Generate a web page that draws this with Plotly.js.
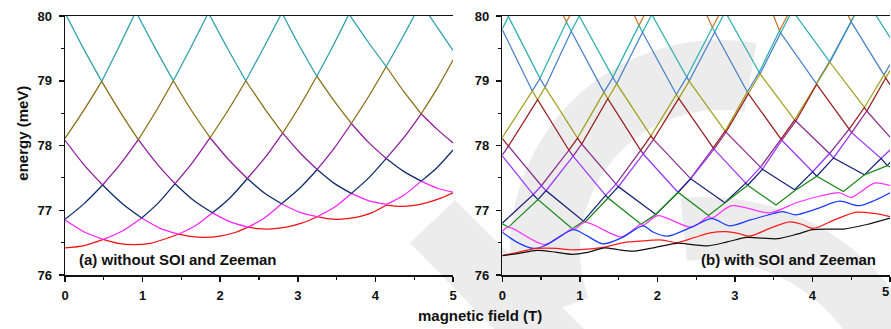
<!DOCTYPE html>
<html><head><meta charset="utf-8">
<script src="https://cdn.plot.ly/plotly-3.0.1.min.js"></script>
<style>html,body{margin:0;padding:0;background:#fff}#chart{width:891px;height:329px}</style>
</head><body><div id="chart"></div>
<script>
// ---------- Panel (a): without SOI and Zeeman (arcs separated by null) ----------
const aRedB = [0,0.25,0.494,null, 0.494,0.68,0.88,1.1,1.3,1.46,null, 1.46,1.62,1.78,2.0,2.2,2.36,null, 2.36,2.5,2.62,2.85,3.05,3.25,null, 3.25,3.38,3.52,3.75,3.95,4.145,null, 4.145,4.32,4.5,4.7,4.85,5.0];
const aRedE = [76.42,76.455,76.55,null, 76.55,76.49,76.47,76.49,76.56,76.63,null, 76.63,76.595,76.58,76.60,76.66,76.74,null, 76.74,76.715,76.71,76.74,76.80,76.90,null, 76.90,76.87,76.86,76.89,76.96,77.08,null, 77.08,77.06,77.075,77.13,77.19,77.27];
const aMagB = [0,0.25,0.494,null,0.494,0.74,0.988,null,0.988,1.22,1.46,null,1.46,1.68,1.90,null,1.90,2.13,2.36,null,2.36,2.575,2.79,null,2.79,3.02,3.25,null,3.25,3.47,3.69,null,3.69,3.92,4.145,null,4.145,4.37,4.59,null,4.59,4.8,5.0];
const aMagE = [76.85,76.665,76.55,null,76.55,76.68,76.88,null,76.88,76.725,76.63,null,76.63,76.76,76.96,null,76.96,76.82,76.74,null,76.74,76.885,77.10,null,77.10,76.97,76.90,null,76.90,77.045,77.26,null,77.26,77.145,77.09,null,77.09,77.235,77.45,null,77.45,77.34,77.28];
const aNavyB = [0,0.24,0.485,null,0.485,0.74,0.988,null,0.988,1.2,1.418,null,1.418,1.66,1.90,null,1.90,2.125,2.35,null,2.35,2.57,2.79,null,2.79,3.02,3.25,null,3.25,3.47,3.69,null,3.69,3.915,4.14,null,4.14,4.365,4.59,null,4.59,4.8,5.0];
const aNavyE = [76.86,77.095,77.39,null,77.39,77.10,76.88,null,76.88,77.11,77.41,null,77.41,77.15,76.96,null,76.96,77.19,77.49,null,77.49,77.265,77.10,null,77.10,77.335,77.63,null,77.63,77.415,77.26,null,77.26,77.50,77.80,null,77.80,77.60,77.45,null,77.45,77.665,77.93];
const aPurB = [0,0.24,0.485,null,0.485,0.715,0.945,null,0.945,1.18,1.418,null,1.418,1.645,1.87,null,1.87,2.11,2.35,null,2.35,2.58,2.805,null,2.805,3.03,3.25,null,3.25,3.47,3.69,null,3.69,3.915,4.14,null,4.14,4.365,4.59,null,4.59,4.8,5.0];
const aPurE = [78.08,77.71,77.39,null,77.39,77.715,78.09,null,78.09,77.725,77.41,null,77.41,77.74,78.12,null,78.12,77.78,77.49,null,77.49,77.815,78.19,null,78.19,77.885,77.63,null,77.63,77.96,78.34,null,78.34,78.045,77.80,null,77.80,78.12,78.49,null,78.49,78.245,78.04];
const aOliB = [0,0.235,0.473,null,0.473,0.71,0.945,null,0.945,1.17,1.396,null,1.396,1.63,1.87,null,1.87,2.1,2.33,null,2.33,2.57,2.805,null,2.805,3.025,3.245,null,3.245,3.47,3.69,null,3.69,3.915,4.14,null,4.14,4.365,4.59,null,4.59,4.8,5.0];
const aOliE = [78.11,78.53,78.99,null,78.99,78.52,78.09,null,78.09,78.525,79.0,null,79.0,78.54,78.12,null,78.12,78.54,79.0,null,79.0,78.575,78.19,null,78.19,78.61,79.07,null,79.07,78.685,78.34,null,78.34,78.76,79.22,null,79.22,78.835,78.49,null,78.49,78.89,79.32];
const aTealB = [0,0.237,0.473,null,0.473,0.69,0.913,null,0.913,1.155,1.396,null,1.396,1.62,1.848,null,1.848,2.09,2.33,null,2.33,2.56,2.795,null,2.795,3.02,3.245,null,3.245,3.45,3.66,null,3.66,3.9,4.14,null,4.14,4.36,4.585,null,4.585,4.8,5.0];
const aTealE = [80.05,79.50,78.99,null,78.99,79.51,80.07,null,80.07,79.52,79.0,null,79.0,79.51,80.05,null,80.05,79.51,79.0,null,79.0,79.51,80.05,null,80.05,79.54,79.07,null,79.07,79.53,80.03,null,80.03,79.61,79.22,null,79.22,79.69,80.2,null,80.2,79.82,79.47];

// ---------- Panel (b): with SOI and Zeeman (levels 1..13, bottom to top) ----------
const bBlackB = [0,0.2,0.45,0.7,0.9,1.1,1.32,1.5,1.7,1.95,2.25,2.45,2.65,2.9,3.15,3.35,3.55,3.8,4.0,4.2,4.4,4.7,5.0];
const bBlackE = [76.30,76.33,76.38,76.35,76.32,76.35,76.42,76.39,76.37,76.42,76.49,76.47,76.45,76.51,76.58,76.57,76.56,76.63,76.70,76.71,76.71,76.78,76.88];
const bRedB = [0,0.2,0.45,0.7,0.89,1.1,1.32,1.45,1.62,1.85,2.06,2.25,2.48,2.68,2.89,3.05,3.19,3.45,3.71,3.87,4.01,4.3,4.57,4.8,5.0];
const bRedE = [76.30,76.35,76.41,76.41,76.39,76.40,76.43,76.47,76.51,76.53,76.54,76.50,76.58,76.65,76.67,76.64,76.60,76.72,76.82,76.78,76.72,76.86,76.97,76.95,76.90];
const bBlueB = [0,0.2,0.40,0.56,0.75,0.92,1.1,1.30,1.55,1.815,1.95,2.13,2.44,2.705,2.93,3.2,3.5,3.62,3.78,4.05,4.35,4.6,4.8,5.0];
const bBlueE = [76.66,76.50,76.41,76.46,76.60,76.70,76.60,76.48,76.58,76.76,76.66,76.60,76.74,76.87,76.76,76.85,76.95,76.98,76.93,77.02,77.14,77.07,77.15,77.27];
const bMagB = [0,0.08,0.55,0.903,0.924,1.068,1.54,1.79,1.815,2.005,2.44,2.66,2.705,2.96,3.45,3.8,4.1,4.35,4.5,4.8,5.0];
const bMagE = [76.67,76.74,76.47,76.715,76.70,76.815,76.59,76.784,76.764,76.916,76.74,76.90,76.88,77.07,76.96,77.12,77.22,77.27,77.20,77.42,77.38];
const bGreenB = [0,0.08,0.46,0.903,1.047,1.068,1.364,1.79,1.98,2.268,2.66,2.87,3.165,3.53,3.77,4.055,4.40,4.67,4.965,5.0];
const bGreenE = [76.79,76.74,77.165,76.715,76.831,76.815,77.19,76.784,76.936,77.275,76.92,77.116,77.386,77.08,77.30,77.525,77.29,77.547,77.69,77.67];
const bNavyB = [0,0.40,0.46,0.565,1.047,1.333,1.364,1.498,1.98,2.265,2.268,2.43,2.87,3.14,3.165,3.355,3.77,4.002,4.055,4.272,4.67,4.885,4.965,5.0];
const bNavyE = [76.80,77.243,77.165,77.302,76.831,77.23,77.19,77.364,76.936,77.278,77.275,77.486,77.116,77.419,77.386,77.633,77.316,77.594,77.525,77.808,77.547,77.80,77.69,77.74];
const bVioB = [0,0.40,0.505,0.565,0.914,1.333,1.467,1.498,1.818,2.265,2.428,2.43,2.731,3.14,3.33,3.355,3.605,4.002,4.22,4.272,4.505,4.885,5.0];
const bVioE = [77.84,77.243,77.379,77.302,77.835,77.23,77.404,77.364,77.869,77.278,77.489,77.486,77.944,77.419,77.666,77.633,78.081,77.594,77.876,77.808,78.199,77.80,77.93];
const bPurB = [0,0.08,0.505,0.86,0.914,1.025,1.467,1.785,1.818,1.95,2.428,2.72,2.731,2.885,3.33,3.595,3.605,3.785,4.22,4.474,4.505,4.701,5.0];
const bPurE = [77.85,77.99,77.379,77.927,77.835,78.023,77.404,77.925,77.869,78.094,77.489,77.962,77.944,78.206,77.666,78.098,78.081,78.378,77.876,78.253,78.199,78.533,78.13];
const bMarB = [0,0.08,0.456,0.86,0.971,1.025,1.361,1.785,1.917,1.95,2.276,2.72,2.874,2.885,3.173,3.595,3.77,3.785,4.055,4.474,4.67,4.701,4.945,5.0];
const bMarE = [78.11,77.99,78.707,77.927,78.115,78.023,78.722,77.925,78.149,78.094,78.727,77.962,78.224,78.206,78.801,78.098,78.396,78.378,78.945,78.253,78.587,78.533,79.044,78.94];
const bOliB = [0,0.388,0.456,0.553,0.971,1.311,1.361,1.476,1.917,2.245,2.276,2.41,2.874,3.16,3.173,3.325,3.77,4.05,4.055,4.225,4.67,4.922,4.945,5.0];
const bOliE = [78.12,78.843,78.707,78.901,78.115,78.821,78.722,78.953,78.149,78.788,78.727,78.995,78.224,78.826,78.801,79.106,78.396,78.956,78.945,79.286,78.587,79.09,79.044,79.16];
const bSteelB = [0,0.388,0.486,0.553,0.890,1.311,1.426,1.476,1.809,2.245,2.379,2.41,2.74,3.16,3.313,3.325,3.59,4.05,4.22,4.225,4.50,4.922,5.0];
const bSteelE = [79.79,78.843,79.037,78.901,79.765,78.821,79.052,78.953,79.749,78.788,79.057,78.995,79.754,78.826,79.131,79.106,79.738,78.956,79.296,79.286,79.91,79.09,79.25];
const bTealB = [0,0.08,0.486,0.828,0.890,0.993,1.426,1.763,1.809,1.928,2.379,2.71,2.74,2.875,3.313,3.575,3.59,3.74,4.22,4.50,4.668,5.0];
const bTealE = [79.80,79.99,79.037,79.908,79.765,80.001,79.052,79.855,79.749,80.023,79.057,79.822,79.754,80.066,79.131,79.772,79.738,80.085,79.296,79.91,80.293,79.67];
const bOrB = [0,0.08,0.454,0.828,0.931,0.993,1.38,1.763,1.882,1.928,2.32,2.71,2.846,2.875,3.22,3.575,3.726,3.74,4.12,4.498,4.665,5.0];
const bOrE = [80.17,79.99,80.85,79.908,80.145,80.001,80.85,79.855,80.129,80.023,80.85,79.822,80.134,80.066,80.85,79.772,80.118,80.085,80.85,79.913,80.296,81.0];

const xTicks = [0,1,2,3,4,5];
const yTicks = [76,77,78,79,80];

function tr(x, y, color, xa, ya, shape){
  return {x:x, y:y, xaxis:xa, yaxis:ya, type:'scatter', mode:'lines', hoverinfo:'skip',
    connectgaps:false, line:{color:color, width:1.25, shape:shape||'linear', smoothing:0.8}};
}
const data = [
  tr(aRedB,aRedE,'#ee1111','x','y','spline'),
  tr(aMagB,aMagE,'#ff22ff','x','y','spline'),
  tr(aNavyB,aNavyE,'#0d2a6b','x','y','spline'),
  tr(aPurB,aPurE,'#8e1a9c','x','y','spline'),
  tr(aOliB,aOliE,'#8a6b12','x','y','spline'),
  tr(aTealB,aTealE,'#2b9fae','x','y','spline'),
  tr(bOrB,bOrE,'#c8782a','x2','y2'),
  tr(bTealB,bTealE,'#2fb0b0','x2','y2'),
  tr(bSteelB,bSteelE,'#4a80c8','x2','y2'),
  tr(bOliB,bOliE,'#a0a01e','x2','y2'),
  tr(bMarB,bMarE,'#9c1c1c','x2','y2'),
  tr(bPurB,bPurE,'#8a2a8a','x2','y2'),
  tr(bVioB,bVioE,'#9933ff','x2','y2'),
  tr(bNavyB,bNavyE,'#14207a','x2','y2'),
  tr(bGreenB,bGreenE,'#1a8a1a','x2','y2'),
  tr(bMagB,bMagE,'#ff33ff','x2','y2','spline'),
  tr(bBlueB,bBlueE,'#1a3cff','x2','y2','spline'),
  tr(bRedB,bRedE,'#ff1a1a','x2','y2','spline'),
  tr(bBlackB,bBlackE,'#111111','x2','y2','spline')
];

const tickFont = {family:'Liberation Sans, Arial, sans-serif', size:13, color:'#111', weight:'bold'};
function xax(domain, anchor, labels){
  return {domain:domain, anchor:anchor, range:[0,5], tickmode:'array', tickvals:xTicks, ticktext:labels,
    ticks:'outside', ticklen:5, tickwidth:1.5, tickcolor:'#111', showline:true, linewidth:1.5, linecolor:'#111',
    mirror:true, showgrid:false, zeroline:false, tickfont:tickFont, ticklabelstandoff:3,
    minor:{dtick:0.5, ticks:'outside', ticklen:3, tickwidth:1.2, tickcolor:'#111', showgrid:false}};
}
function yax(anchor){
  return {domain:[0,1], anchor:anchor, range:[76,80], tickmode:'array', tickvals:yTicks, ticktext:yTicks.map(String),
    ticks:'outside', ticklen:5, tickwidth:1.5, tickcolor:'#111', showline:true, linewidth:1.5, linecolor:'#111',
    showgrid:false, zeroline:false, tickfont:tickFont, ticklabelstandoff:4,
    minor:{dtick:0.5, ticks:'outside', ticklen:3, tickwidth:1.2, tickcolor:'#111', showgrid:false}};
}
function yright(over, anchor){
  return {overlaying:over, anchor:anchor, side:'right', range:[76,80], tickmode:'array', tickvals:yTicks,
    ticks:'inside', ticklen:5, tickwidth:1.5, tickcolor:'#111', showline:true, linewidth:1.5, linecolor:'#111',
    showticklabels:false, showgrid:false, zeroline:false,
    minor:{dtick:0.5, ticks:'inside', ticklen:3, tickwidth:1.2, tickcolor:'#111', showgrid:false}};
}
// light-grey background watermark (decoration), pixel -> paper helpers
const L=65, W=825, B=275, H=259;
const px = X => (X-L)/W, py = Y => (B-Y)/H;
function ringPath(cx, cy, r1, r2, a0, a1){
  let pts=[], n=40;
  for(let i=0;i<=n;i++){const t=(a0+(a1-a0)*i/n)*Math.PI/180; pts.push([cx+r1*Math.cos(t), cy-r1*Math.sin(t)]);}
  for(let i=n;i>=0;i--){const t=(a0+(a1-a0)*i/n)*Math.PI/180; pts.push([cx+r2*Math.cos(t), cy-r2*Math.sin(t)]);}
  return 'M'+pts.map(p=>px(p[0]).toFixed(4)+','+py(p[1]).toFixed(4)).join('L')+'Z';
}
function polyPath(pts){ return 'M'+pts.map(p=>px(p[0]).toFixed(4)+','+py(p[1]).toFixed(4)).join('L')+'Z'; }
const wm = '#ececec';
const shapes = [
  {type:'path', xref:'paper', yref:'paper', layer:'below', line:{width:0}, fillcolor:wm, path:ringPath(720,250,210,140,80,200)},
  {type:'path', xref:'paper', yref:'paper', layer:'below', line:{width:0}, fillcolor:wm, path:ringPath(705,432,235,172,8,96)},
  {type:'path', xref:'paper', yref:'paper', layer:'below', line:{width:0}, fillcolor:wm, path:polyPath([[410,243],[455,200],[590,335],[500,335]])}
];
const bold = {family:'Liberation Sans, Arial, sans-serif', size:15, color:'#111', weight:'bold'};
const layout = {
  width:891, height:329, margin:{l:65, r:1, t:16, b:54},
  paper_bgcolor:'#ffffff', plot_bgcolor:'rgba(0,0,0,0)', showlegend:false,
  xaxis: xax([0,0.4703],'y', xTicks.map(String)), yaxis: yax('x'),
  xaxis2: xax([0.530,1],'y2', ['0','1','2','3','4','']), yaxis2: yax('x2'),
  yaxis3: yright('y','x'), yaxis4: yright('y2','x2'),
  shapes: shapes,
  annotations:[
    {text:'5', xref:'paper', yref:'paper', x:px(891), y:py(291.5), xanchor:'right', yanchor:'middle', showarrow:false, font:tickFont},
    {text:'(a) without SOI and Zeeman', xref:'paper', yref:'paper', x:0.0145, y:0.058, xanchor:'left', yanchor:'middle', showarrow:false, font:bold},
    {text:'(b) with SOI and Zeeman', xref:'paper', yref:'paper', x:0.9855, y:0.058, xanchor:'right', yanchor:'middle', showarrow:false, font:bold},
    {text:'energy (meV)', xref:'paper', yref:'paper', x:-0.052, y:0.546, xanchor:'center', yanchor:'middle', textangle:-90, showarrow:false, font:bold},
    {text:'magnetic field (T)', xref:'paper', yref:'paper', x:0.503, y:-0.158, xanchor:'center', yanchor:'middle', showarrow:false, font:bold}
  ]
};
Plotly.newPlot('chart', data, layout, {staticPlot:true, displayModeBar:false});
</script></body></html>
